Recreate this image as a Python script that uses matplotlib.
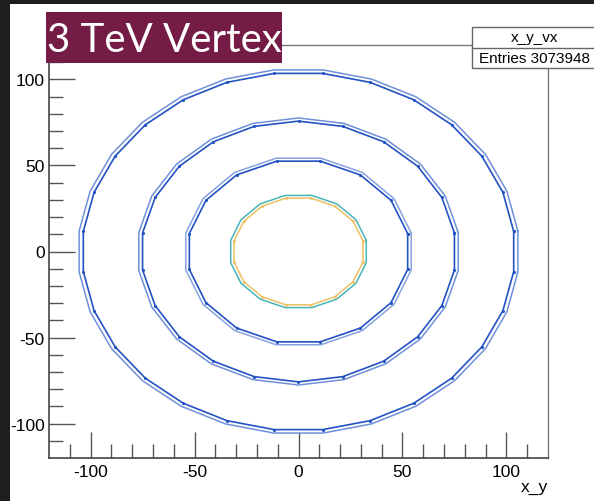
import numpy as np
import matplotlib.pyplot as plt
import matplotlib.patches as patches

plt.rcParams['axes.unicode_minus'] = False

# barrel layers of the vertex map: flat-to-centre radius and number of staves
layer_radius = [31.0, 52.5, 75.0, 103.5]
layer_sides = [16, 16, 22, 28]
layer_gap = [1.6, 1.7, 1.8, 2.0]
inner_colors = ['#efc46e', '#2352c2', '#2352c2', '#2352c2']
outer_colors = ['#45b5b8', '#86a2df', '#6f90d8', '#6f90d8']

hist_name = 'x_y_vx'
n_entries = 3073948
title_text = '3 TeV Vertex'
x_label = 'x_y'
x_range = (-120, 120)
y_range = (-120, 120)
major_ticks = [-100, -50, 0, 50, 100]
minor_ticks = list(range(-110, 120, 10))


def stave_polygon(r_flat, n_sides):
    # regular polygon with a flat face towards +x
    ang = (np.arange(n_sides + 1) + 0.5) * 2 * np.pi / n_sides
    r_vert = r_flat / np.cos(np.pi / n_sides)
    return r_vert * np.cos(ang), r_vert * np.sin(ang)


fig = plt.figure(figsize=(5.94, 5.02), dpi=100)
ax = fig.add_axes([49 / 594, 1 - 459 / 502, 499 / 594, 413 / 502])

for r, n, gap, c_in, c_out in zip(layer_radius, layer_sides, layer_gap, inner_colors, outer_colors):
    xo, yo = stave_polygon(r + gap, n)
    ax.plot(xo, yo, color=c_out, lw=1.1)
    xi, yi = stave_polygon(r, n)
    ax.plot(xi, yi, color=c_in, lw=1.2, marker='.', ms=2.5)

ax.set_xlim(*x_range)
ax.set_ylim(*y_range)
ax.set_xticks(major_ticks)
ax.set_yticks(major_ticks)
ax.set_xticks(minor_ticks, minor=True)
ax.set_yticks(minor_ticks, minor=True)
ax.tick_params(which='both', direction='in', colors='#555555', labelcolor='black',
               labelsize=12.5, labelfontfamily='Liberation Sans')
ax.tick_params(which='major', length=19, width=1.0)
ax.tick_params(which='minor', length=10, width=1.0)
ax.tick_params(axis='x', pad=4)
ax.tick_params(axis='y', pad=3)
for side in ['left', 'bottom']:
    ax.spines[side].set_color('#444444')
    ax.spines[side].set_linewidth(1.2)
for side in ['top', 'right']:
    ax.spines[side].set_color('#777777')
    ax.spines[side].set_linewidth(1.0)

fig.text(548 / 594, 1 - 488 / 502, x_label, ha='right', va='center',
         fontsize=12.5, family='Liberation Sans')

# stats box
fig.patches.append(patches.Rectangle((472 / 594, 1 - 69 / 502), 130 / 594, 41 / 502,
                                     transform=fig.transFigure, fc='white', ec='#666666', lw=1.0))
fig.lines.append(plt.Line2D([472 / 594, 1.0], [1 - 49 / 502, 1 - 49 / 502],
                            transform=fig.transFigure, color='#666666', lw=1.0))
fig.text(535 / 594, 1 - 38 / 502, hist_name, ha='center', va='center',
         fontsize=11, family='Liberation Sans')
fig.text(479 / 594, 1 - 59 / 502, 'Entries %d' % n_entries, ha='left', va='center',
         fontsize=11, family='Liberation Sans')

# title banner
fig.patches.append(patches.Rectangle((46 / 594, 1 - 64 / 502), 236 / 594, 51 / 502,
                                     transform=fig.transFigure, fc='#741c46', ec='none'))
fig.text(164 / 594, 1 - 40 / 502, title_text, ha='center', va='center',
         fontsize=29, color='white', family='Lato')

# dark window edges
fig.patches.append(patches.Rectangle((0, 0), 10 / 594, 1, transform=fig.transFigure,
                                     fc='#1e1e1e', ec='none'))
fig.patches.append(patches.Rectangle((0, 1 - 5 / 502), 1, 5 / 502, transform=fig.transFigure,
                                     fc='#1e1e1e', ec='none'))

fig.savefig('out.png', dpi=100)
